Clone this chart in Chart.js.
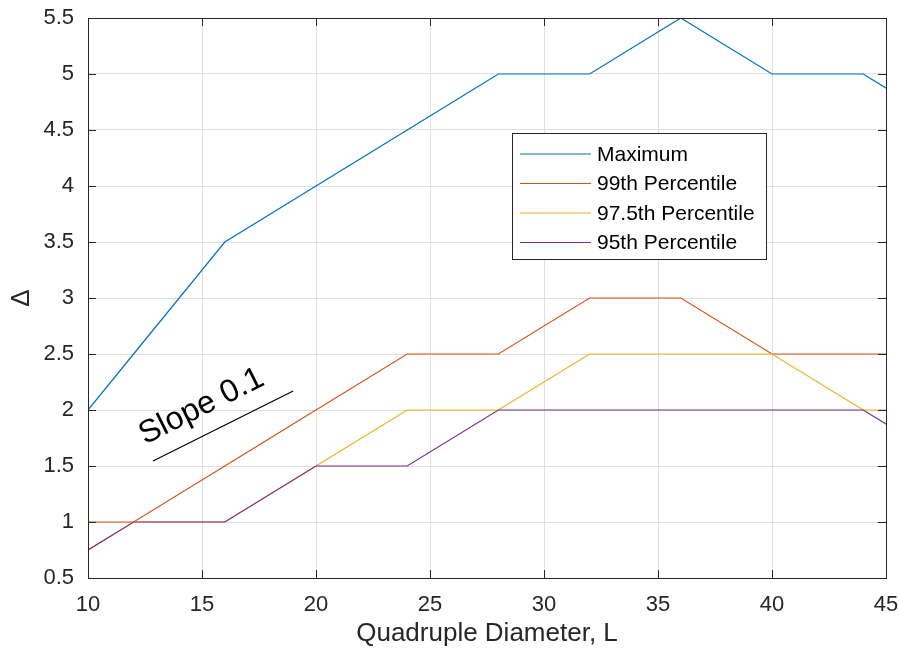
<!DOCTYPE html>
<html>
<head>
<meta charset="utf-8">
<script src="https://cdn.jsdelivr.net/npm/chart.js@4/dist/chart.umd.min.js"></script>
<style>
  html, body { margin: 0; padding: 0; background: #fff; }
  #wrap { width: 899px; height: 653px; }
</style>
</head>
<body>
<div id="wrap"><canvas id="c" width="899" height="653"></canvas></div>
<script>
// data
var xs = [8, 12, 16, 20, 24, 28, 32, 36, 40, 44, 48];
var maxVals = [1.5, 2.5, 3.5, 4, 4.5, 5, 5, 5.5, 5, 5, 4.5];
var p99 = [1, 1, 1.5, 2, 2.5, 2.5, 3, 3, 2.5, 2.5, 2.5];
var p975 = [0.5, 1, 1, 1.5, 2, 2, 2.5, 2.5, 2.5, 2, 2];
var p95 = [0.5, 1, 1, 1.5, 1.5, 2, 2, 2, 2, 2, 1.5];
var slopeX = [12.85, 19];
var slopeY = [1.545, 2.17];
var xTicks = [10, 15, 20, 25, 30, 35, 40, 45];
var yTicks = [0.5, 1, 1.5, 2, 2.5, 3, 3.5, 4, 4.5, 5, 5.5];

var axisCol = '#262626';
var sans = '"Liberation Sans", Arial, sans-serif';

function pts(xv, yv) {
    return xv.map(function (x, i) { return { x: x, y: yv[i] }; });
}

var series = [
    { label: 'Maximum', data: maxVals, color: '#0072BD' },
    { label: '99th Percentile', data: p99, color: '#D95319' },
    { label: '97.5th Percentile', data: p975, color: '#EDB120' },
    { label: '95th Percentile', data: p95, color: '#7E2F8E' }
];

// later series on top, like matlab
var datasets = series.map(function (s, i) {
    return {
        label: s.label, data: pts(xs, s.data), borderColor: s.color,
        borderWidth: 1.2, pointRadius: 0, fill: false, tension: 0, order: 3 - i
    };
});
datasets.push({
    label: 'slope', data: pts(slopeX, slopeY), borderColor: '#000',
    borderWidth: 1.2, pointRadius: 0, fill: false, order: -1
});

// box, inward ticks, x labels, legend and slope text
var matlabPlugin = {
    id: 'matlab',
    afterDatasetsDraw: function (chart) {
        var ctx = chart.ctx, a = chart.chartArea;
        var xs_ = chart.scales.x, ys_ = chart.scales.y;
        ctx.save();
        ctx.strokeStyle = axisCol;
        ctx.lineWidth = 1;
        ctx.strokeRect(Math.round(a.left) + 0.5, Math.round(a.top) + 0.5,
            Math.round(a.right - a.left), Math.round(a.bottom - a.top));
        var tl = 8;
        ctx.beginPath();
        xTicks.forEach(function (v) {
            var px = Math.round(xs_.getPixelForValue(v)) + 0.5;
            ctx.moveTo(px, a.bottom); ctx.lineTo(px, a.bottom - tl);
            ctx.moveTo(px, a.top); ctx.lineTo(px, a.top + tl);
        });
        yTicks.forEach(function (v) {
            var py = Math.round(ys_.getPixelForValue(v)) + 0.5;
            ctx.moveTo(a.left, py); ctx.lineTo(a.left + tl, py);
            ctx.moveTo(a.right, py); ctx.lineTo(a.right - tl, py);
        });
        ctx.stroke();

        // x tick labels and title
        ctx.fillStyle = axisCol;
        ctx.textAlign = 'center';
        ctx.textBaseline = 'middle';
        ctx.font = '22px ' + sans;
        xTicks.forEach(function (v) {
            ctx.fillText(String(v), xs_.getPixelForValue(v), a.bottom + 27);
        });
        ctx.font = '26px ' + sans;
        ctx.fillText('Quadruple Diameter, L', (a.left + a.right) / 2, a.bottom + 56);

        // slope label
        var x0 = xs_.getPixelForValue(slopeX[0]), y0 = ys_.getPixelForValue(slopeY[0]);
        var x1 = xs_.getPixelForValue(slopeX[1]), y1 = ys_.getPixelForValue(slopeY[1]);
        var ang = Math.atan2(y1 - y0, x1 - x0);
        ctx.save();
        ctx.translate(xs_.getPixelForValue(12.5), ys_.getPixelForValue(1.69));
        ctx.rotate(ang);
        ctx.fillStyle = '#000';
        ctx.font = '32px ' + sans;
        ctx.textBaseline = 'alphabetic';
        ctx.textAlign = 'left';
        ctx.fillText('Slope 0.1', 0, 0);
        ctx.restore();
        ctx.restore();

        // legend
        ctx.save();
        var lx = 512, ly = 133, lw = 254, lh = 126;
        ctx.fillStyle = '#fff';
        ctx.fillRect(lx, ly, lw, lh);
        ctx.strokeStyle = axisCol;
        ctx.lineWidth = 1;
        ctx.strokeRect(lx + 0.5, ly + 0.5, lw, lh);
        ctx.font = '21px ' + sans;
        ctx.textBaseline = 'middle';
        ctx.fillStyle = '#000';
        series.forEach(function (s, i) {
            var yy = ly + 21 + i * 29.5;
            ctx.strokeStyle = s.color;
            ctx.lineWidth = 1.2;
            ctx.beginPath();
            ctx.moveTo(520, yy); ctx.lineTo(591, yy);
            ctx.stroke();
            ctx.fillText(s.label, 597, yy + 1);
        });
        ctx.restore();
    }
};

new Chart(document.getElementById('c').getContext('2d'), {
    type: 'line',
    data: { datasets: datasets },
    options: {
        responsive: false,
        animation: false,
        layout: { padding: { top: 18, right: 13, left: 0, bottom: 0 } },
        plugins: { legend: { display: false }, tooltip: { enabled: false } },
        scales: {
            x: {
                type: 'linear', min: 10, max: 45,
                afterBuildTicks: function (axis) { axis.ticks = xTicks.map(function (v) { return { value: v }; }); },
                afterFit: function (axis) { axis.height = 75; axis.paddingRight = 0; axis.paddingLeft = 0; },
                grid: { color: '#dfdfdf', drawTicks: false },
                border: { display: false },
                ticks: { display: false }
            },
            y: {
                type: 'linear', min: 0.5, max: 5.5,
                afterBuildTicks: function (axis) { axis.ticks = yTicks.map(function (v) { return { value: v }; }); },
                afterFit: function (axis) { axis.width = 88; axis.paddingTop = 0; axis.paddingBottom = 0; },
                grid: { color: '#dfdfdf', drawTicks: false },
                border: { display: false },
                ticks: {
                    color: axisCol, padding: 14,
                    font: { family: sans, size: 22 },
                    callback: function (v) { return String(v); }
                },
                title: {
                    display: true, text: '\u0394', color: axisCol,
                    font: { family: sans, size: 26 },
                    padding: { top: 6, bottom: 0 }
                }
            }
        }
    },
    plugins: [matlabPlugin]
});
</script>
</body>
</html>
